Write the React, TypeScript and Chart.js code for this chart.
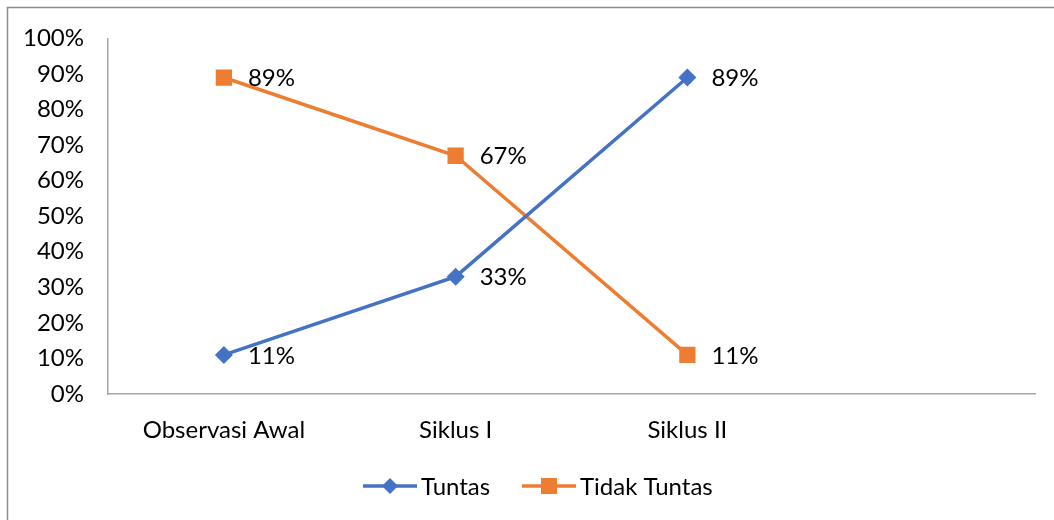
import React, { useEffect, useRef } from "react";
import { Chart, registerables } from "chart.js";

Chart.register(...registerables);

const categories = ["Observasi Awal", "Siklus I", "Siklus II", ""];
const tuntas = [11, 33, 89, null];
const tidakTuntas = [89, 67, 11, null];
const seriesNames = ["Tuntas", "Tidak Tuntas"];
const yTicksMax = 100;

const BLUE = "#4472C4";
const ORANGE = "#ED7D31";
const FONT = "Lato, 'Open Sans', sans-serif";
const FS = 24;

function drawMarker(ctx: CanvasRenderingContext2D, style: string, x: number, y: number, color: string) {
  ctx.save();
  ctx.fillStyle = color;
  if (style === "rectRot") {
    const r = 8;
    ctx.beginPath();
    ctx.moveTo(x, y - r);
    ctx.lineTo(x + r, y);
    ctx.lineTo(x, y + r);
    ctx.lineTo(x - r, y);
    ctx.closePath();
    ctx.fill();
  } else {
    const s = 16;
    ctx.fillRect(x - s / 2, y - s / 2, s, s);
  }
  ctx.restore();
}

const decorPlugin = {
  id: "decor",
  afterDatasetsDraw(chart: any) {
    const ctx: CanvasRenderingContext2D = chart.ctx;
    ctx.save();
    // data labels
    ctx.font = `${FS}px ${FONT}`;
    ctx.fillStyle = "#000";
    ctx.textBaseline = "middle";
    ctx.textAlign = "left";
    chart.data.datasets.forEach((ds: any, i: number) => {
      const meta = chart.getDatasetMeta(i);
      meta.data.forEach((pt: any, j: number) => {
        const v = ds.data[j];
        if (v == null) return;
        ctx.fillText(`${v}%`, pt.x + 24, pt.y + 1);
      });
    });
    // legend
    const ly = 486;
    const items = [
      { name: seriesNames[0], color: BLUE, style: "rectRot", x: 363 },
      { name: seriesNames[1], color: ORANGE, style: "rect", x: 522 },
    ];
    items.forEach((it) => {
      ctx.strokeStyle = it.color;
      ctx.lineWidth = 3.5;
      ctx.beginPath();
      ctx.moveTo(it.x, ly);
      ctx.lineTo(it.x + 54, ly);
      ctx.stroke();
      drawMarker(ctx, it.style, it.x + 27, ly, it.color);
      ctx.fillStyle = "#000";
      ctx.fillText(it.name, it.x + 58, ly + 1);
    });
    // frame
    ctx.strokeStyle = "#8c8c8c";
    ctx.lineWidth = 1.5;
    ctx.beginPath();
    ctx.moveTo(7.5, 600);
    ctx.lineTo(7.5, 7.5);
    ctx.lineTo(1100, 7.5);
    ctx.stroke();
    ctx.restore();
  },
};

export default function App() {
  const ref = useRef<HTMLCanvasElement | null>(null);
  useEffect(() => {
    if (!ref.current) return;
    const chart = new Chart(ref.current, {
      type: "line",
      data: {
        labels: categories,
        datasets: [
          {
            label: seriesNames[0],
            data: tuntas,
            borderColor: BLUE,
            backgroundColor: BLUE,
            borderWidth: 3.5,
            pointStyle: "rectRot",
            pointRadius: 9,
            pointBorderWidth: 0,
            pointBackgroundColor: BLUE,
            spanGaps: false,
          },
          {
            label: seriesNames[1],
            data: tidakTuntas,
            borderColor: ORANGE,
            backgroundColor: ORANGE,
            borderWidth: 3.5,
            pointStyle: "rect",
            pointRadius: 11.5,
            pointBorderWidth: 0,
            pointBackgroundColor: ORANGE,
            spanGaps: false,
          },
        ],
      },
      options: {
        animation: false,
        responsive: false,
        devicePixelRatio: 1,
        layout: { padding: { top: 36, right: 19, left: 0, bottom: 0 } },
        plugins: { legend: { display: false }, tooltip: { enabled: false } },
        scales: {
          x: {
            offset: true,
            grid: { display: false, drawTicks: false },
            border: { display: true, color: "#a6a6a6", width: 1.5 },
            ticks: { color: "#000", font: { family: FONT, size: FS }, padding: 22, maxRotation: 0 },
            afterFit: (s: any) => { s.height = 126; },
          },
          y: {
            min: 0,
            max: yTicksMax,
            grid: { display: false, drawTicks: false },
            border: { display: true, color: "#a6a6a6", width: 1.5 },
            ticks: {
              stepSize: 10,
              color: "#000",
              font: { family: FONT, size: FS },
              padding: 24,
              callback: (v: any) => `${v}%`,
            },
            afterFit: (s: any) => { s.width = 108; },
          },
        },
      },
      plugins: [decorPlugin],
    });
    return () => chart.destroy();
  }, []);
  return (
    <div style={{ position: "fixed", left: 0, top: 0, width: 1054, height: 520, background: "#fff" }}>
      <canvas ref={ref} width={1054} height={520} style={{ display: "block" }} />
    </div>
  );
}
